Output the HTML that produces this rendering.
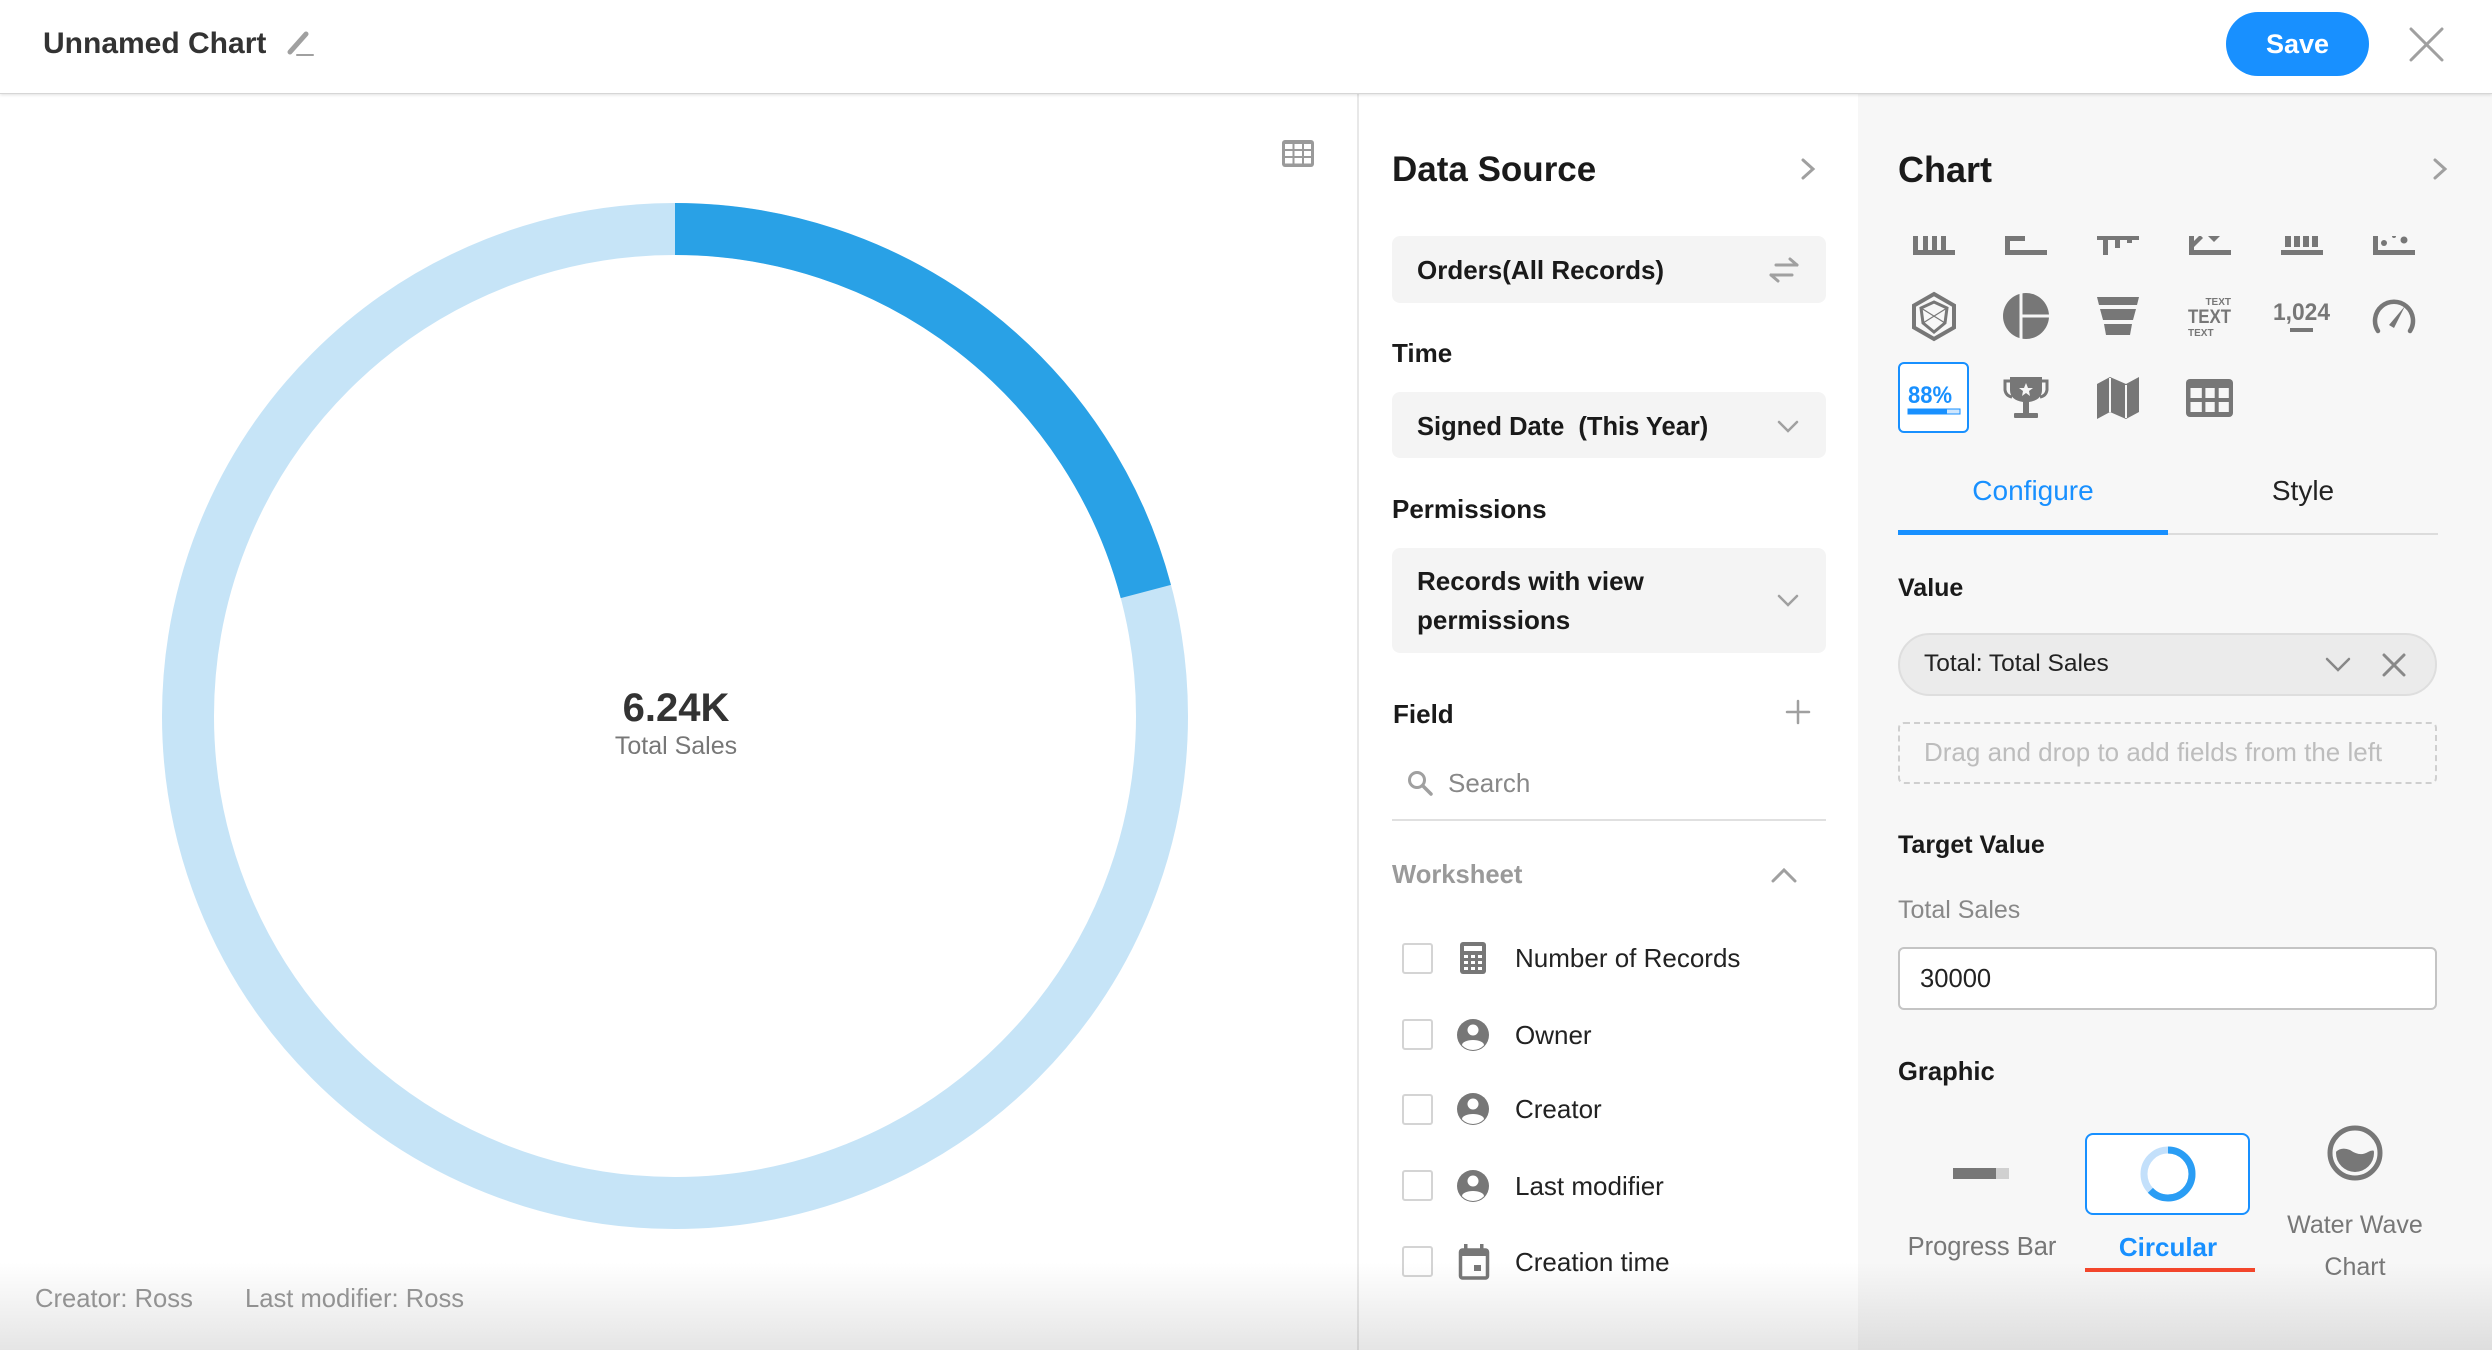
<!DOCTYPE html>
<html><head><meta charset="utf-8"><style>
*{margin:0;padding:0;box-sizing:border-box}
html,body{width:2492px;height:1350px;overflow:hidden;background:#fff;font-family:"Liberation Sans",Arial,sans-serif}
.a{position:absolute;white-space:nowrap}
.b{font-weight:bold}
</style></head><body>
<!-- panels -->
<div class="a" style="left:0;top:0;width:2492px;height:94px;background:#fff;border-bottom:1px solid #d6d6d6;box-shadow:0 1px 3px rgba(0,0,0,0.12);z-index:2"></div>
<div class="a" style="left:1357px;top:94px;width:2px;height:1256px;background:#e8e8e8"></div>
<div class="a" style="left:1858px;top:94px;width:634px;height:1256px;background:#f7f7f7"></div>

<!-- header -->
<div class="a b" style="left:43px;top:24px;font-size:30px;line-height:40px;color:#333;z-index:3">Unnamed Chart</div>
<div class="a" style="left:2226px;top:12px;width:143px;height:64px;border-radius:32px;background:#1890ff;z-index:3"></div>
<div class="a b" style="left:2226px;top:24px;width:143px;text-align:center;font-size:27px;line-height:40px;color:#fff;z-index:4">Save</div>

<!-- data source panel boxes -->
<div class="a" style="left:1392px;top:236px;width:434px;height:67px;background:#f4f4f4;border-radius:8px"></div>
<div class="a" style="left:1392px;top:392px;width:434px;height:66px;background:#f4f4f4;border-radius:8px"></div>
<div class="a" style="left:1392px;top:548px;width:434px;height:105px;background:#f4f4f4;border-radius:8px"></div>
<div class="a" style="left:1392px;top:819px;width:434px;height:2px;background:#e0e0e0"></div>

<div class="a b" style="left:1392px;top:150px;font-size:35px;line-height:40px;color:#1a1a1a">Data Source</div>
<div class="a b" style="left:1417px;top:255px;font-size:26px;line-height:30px;color:#1a1a1a">Orders(All Records)</div>
<div class="a b" style="left:1392px;top:338px;font-size:26px;line-height:30px;color:#1a1a1a">Time</div>
<div class="a b" style="left:1417px;top:412px;font-size:25.5px;line-height:30px;color:#1a1a1a">Signed Date<span style="margin-left:14px">(This Year)</span></div>
<div class="a b" style="left:1392px;top:494px;font-size:26px;line-height:30px;color:#1a1a1a">Permissions</div>
<div class="a b" style="left:1417px;top:562px;font-size:26px;line-height:39px;color:#1a1a1a;white-space:normal;width:300px">Records with view<br>permissions</div>
<div class="a b" style="left:1393px;top:699px;font-size:26px;line-height:30px;color:#1a1a1a">Field</div>
<div class="a" style="left:1448px;top:768px;font-size:26px;line-height:30px;color:#888">Search</div>
<div class="a b" style="left:1392px;top:860px;font-size:25.6px;line-height:30px;color:#9a9a9a">Worksheet</div>

<!-- checkboxes -->
<div class="a" style="left:1402px;top:943px;width:31px;height:31px;border:2px solid #d4d4d4;border-radius:3px;background:#fff"></div>
<div class="a" style="left:1402px;top:1019px;width:31px;height:31px;border:2px solid #d4d4d4;border-radius:3px;background:#fff"></div>
<div class="a" style="left:1402px;top:1094px;width:31px;height:31px;border:2px solid #d4d4d4;border-radius:3px;background:#fff"></div>
<div class="a" style="left:1402px;top:1170px;width:31px;height:31px;border:2px solid #d4d4d4;border-radius:3px;background:#fff"></div>
<div class="a" style="left:1402px;top:1246px;width:31px;height:31px;border:2px solid #d4d4d4;border-radius:3px;background:#fff"></div>

<div class="a" style="left:1515px;top:943px;font-size:26px;line-height:30px;color:#222">Number of Records</div>
<div class="a" style="left:1515px;top:1020px;font-size:26px;line-height:30px;color:#222">Owner</div>
<div class="a" style="left:1515px;top:1094px;font-size:26px;line-height:30px;color:#222">Creator</div>
<div class="a" style="left:1515px;top:1171px;font-size:26px;line-height:30px;color:#222">Last modifier</div>
<div class="a" style="left:1515px;top:1247px;font-size:26px;line-height:30px;color:#222">Creation time</div>

<!-- chart panel -->
<div class="a b" style="left:1898px;top:150px;font-size:36px;line-height:40px;color:#1a1a1a">Chart</div>
<div class="a" style="left:1898px;top:362px;width:71px;height:71px;background:#fff;border:2px solid #1890ff;border-radius:6px"></div>
<div class="a" style="left:1898px;top:474px;width:270px;text-align:center;font-size:28px;line-height:34px;color:#1890ff">Configure</div>
<div class="a" style="left:2168px;top:474px;width:270px;text-align:center;font-size:28px;line-height:34px;color:#222">Style</div>
<div class="a" style="left:1898px;top:533px;width:540px;height:2px;background:#dcdcdc"></div>
<div class="a" style="left:1898px;top:530px;width:270px;height:5px;background:#1890ff"></div>

<div class="a b" style="left:1898px;top:573px;font-size:25px;line-height:30px;color:#1a1a1a">Value</div>
<div class="a" style="left:1898px;top:633px;width:539px;height:63px;border-radius:32px;background:#ebebeb;border:2px solid #dedede"></div>
<div class="a" style="left:1924px;top:649px;font-size:24.5px;line-height:30px;color:#222">Total: Total Sales</div>
<div class="a" style="left:1898px;top:722px;width:539px;height:62px;border-radius:6px;border:2px dashed #cfcfcf"></div>
<div class="a" style="left:1924px;top:737px;font-size:26px;line-height:30px;color:#bdbdbd">Drag and drop to add fields from the left</div>
<div class="a b" style="left:1898px;top:830px;font-size:25px;line-height:30px;color:#1a1a1a">Target Value</div>
<div class="a" style="left:1898px;top:895px;font-size:25px;line-height:30px;color:#888">Total Sales</div>
<div class="a" style="left:1898px;top:947px;width:539px;height:63px;border-radius:6px;background:#fff;border:2px solid #c4c4c4"></div>
<div class="a" style="left:1920px;top:964px;font-size:25.6px;line-height:30px;color:#222">30000</div>
<div class="a b" style="left:1898px;top:1057px;font-size:25.6px;line-height:30px;color:#1a1a1a">Graphic</div>
<div class="a" style="left:2085px;top:1133px;width:165px;height:82px;background:#fff;border:2px solid #1890ff;border-radius:8px"></div>
<div class="a" style="left:1882px;top:1232px;width:200px;text-align:center;font-size:25.5px;line-height:30px;color:#777">Progress Bar</div>
<div class="a b" style="left:2068px;top:1232px;width:200px;text-align:center;font-size:26px;line-height:30px;color:#1890ff">Circular</div>
<div class="a" style="left:2085px;top:1268px;width:170px;height:4px;background:#f5462b"></div>
<div class="a" style="left:2255px;top:1210px;width:200px;text-align:center;font-size:25px;line-height:30px;color:#777">Water Wave</div>
<div class="a" style="left:2255px;top:1252px;width:200px;text-align:center;font-size:25px;line-height:30px;color:#777">Chart</div>

<!-- left chart text -->
<div class="a b" style="left:476px;top:688px;width:400px;text-align:center;font-size:40px;line-height:40px;color:#333">6.24K</div>
<div class="a" style="left:476px;top:731px;width:400px;text-align:center;font-size:25px;line-height:30px;color:#777">Total Sales</div>
<div class="a" style="left:35px;top:1284px;font-size:25.6px;line-height:30px;color:#999">Creator: Ross</div>
<div class="a" style="left:245px;top:1284px;font-size:25.6px;line-height:30px;color:#999">Last modifier: Ross</div>

<svg class="a" style="left:0;top:0;z-index:5" width="2492" height="1350" viewBox="0 0 2492 1350" xmlns="http://www.w3.org/2000/svg">
<defs>
<clipPath id="r1"><rect x="1880" y="236" width="580" height="30"/></clipPath>
<clipPath id="ww"><circle cx="2355" cy="1153" r="19"/></clipPath>
<clipPath id="pc"><circle cx="1473" cy="0" r="15"/></clipPath>
</defs>
<!-- donut -->
<circle cx="675" cy="716" r="487" fill="none" stroke="#c6e4f7" stroke-width="52"/>
<circle cx="675" cy="716" r="487" fill="none" stroke="#29a1e6" stroke-width="52" stroke-dasharray="639 3100" transform="rotate(-90 675 716)"/>
<!-- table icon top -->
<rect x="1282" y="140" width="32" height="27" rx="3" fill="#9a9a9a"/>
<g fill="#fff">
<rect x="1285" y="144" width="7.5" height="5"/><rect x="1294.5" y="144" width="7.5" height="5"/><rect x="1304" y="144" width="7" height="5"/>
<rect x="1285" y="151" width="7.5" height="5"/><rect x="1294.5" y="151" width="7.5" height="5"/><rect x="1304" y="151" width="7" height="5"/>
<rect x="1285" y="158" width="7.5" height="5.5"/><rect x="1294.5" y="158" width="7.5" height="5.5"/><rect x="1304" y="158" width="7" height="5.5"/>
</g>
<!-- header icons -->
<g stroke="#a0a0a0" fill="none" stroke-linecap="round">
<line x1="290" y1="52" x2="306" y2="34" stroke-width="5"/>
<line x1="297" y1="55" x2="313" y2="55" stroke-width="2"/>
<line x1="2411" y1="29" x2="2442" y2="60" stroke-width="3"/>
<line x1="2442" y1="29" x2="2411" y2="60" stroke-width="3"/>
<polyline points="1803,160 1813,169 1803,178" stroke-width="3"/>
<polyline points="2435,160 2445,169 2435,178" stroke-width="3"/>
<!-- swap -->
<line x1="1776" y1="265" x2="1797" y2="265" stroke-width="3"/>
<line x1="1797" y1="265" x2="1790" y2="259" stroke-width="3"/>
<line x1="1771" y1="275" x2="1792" y2="275" stroke-width="3"/>
<line x1="1771" y1="275" x2="1778" y2="281" stroke-width="3"/>
<!-- chevrons -->
<polyline points="1779,422 1788,431 1797,422" stroke-width="2.5"/>
<polyline points="1779,596 1788,605 1797,596" stroke-width="2.5"/>
<polyline points="1773,881 1784,870 1795,881" stroke-width="3"/>
<line x1="1798" y1="701" x2="1798" y2="723" stroke-width="2.5"/>
<line x1="1787" y1="712" x2="1809" y2="712" stroke-width="2.5"/>
<circle cx="1417" cy="780" r="7.5" stroke-width="3"/>
<line x1="1423" y1="786" x2="1431" y2="794" stroke-width="3.5"/>
<polyline points="2327,659 2338,670 2349,659" stroke="#888" stroke-width="2.5"/>
<line x1="2384" y1="655" x2="2404" y2="675" stroke="#888" stroke-width="3"/>
<line x1="2404" y1="655" x2="2384" y2="675" stroke="#888" stroke-width="3"/>
</g>
<!-- worksheet icons -->
<g fill="#777">
<rect x="1460" y="942" width="26" height="32" rx="3"/>
<rect x="1464" y="946" width="18" height="5" fill="#fff"/>
<g fill="#fff">
<rect x="1464" y="955" width="4" height="3"/><rect x="1471" y="955" width="4" height="3"/><rect x="1478" y="955" width="4" height="3"/>
<rect x="1464" y="961" width="4" height="3"/><rect x="1471" y="961" width="4" height="3"/><rect x="1478" y="961" width="4" height="3"/>
<rect x="1464" y="967" width="4" height="3"/><rect x="1471" y="967" width="4" height="3"/><rect x="1478" y="967" width="4" height="3"/>
</g>
<g transform="translate(0,1035)"><circle cx="1473" cy="0" r="16"/><circle cx="1473" cy="-5" r="5.5" fill="#fff"/><ellipse cx="1473" cy="10" rx="11" ry="5" fill="#fff" clip-path="url(#pc)"/></g>
<g transform="translate(0,1109)"><circle cx="1473" cy="0" r="16"/><circle cx="1473" cy="-5" r="5.5" fill="#fff"/><ellipse cx="1473" cy="10" rx="11" ry="5" fill="#fff" clip-path="url(#pc)"/></g>
<g transform="translate(0,1186)"><circle cx="1473" cy="0" r="16"/><circle cx="1473" cy="-5" r="5.5" fill="#fff"/><ellipse cx="1473" cy="10" rx="11" ry="5" fill="#fff" clip-path="url(#pc)"/></g>
<rect x="1460.5" y="1250" width="27" height="28" rx="2" fill="none" stroke="#777" stroke-width="3.5"/>
<rect x="1460" y="1249" width="28" height="7"/>
<rect x="1464" y="1244" width="3.5" height="7"/><rect x="1480" y="1244" width="3.5" height="7"/>
<rect x="1474" y="1265" width="7" height="6"/>
</g>
<!-- chart type row 1 (clipped) -->
<g fill="#777" clip-path="url(#r1)">
<rect x="1913" y="225" width="5" height="30" rx="2"/><rect x="1913" y="250" width="42" height="5"/>
<rect x="1923" y="230" width="5" height="22"/><rect x="1932" y="232" width="5" height="20"/><rect x="1941" y="230" width="5" height="22"/>
<rect x="2005" y="225" width="5" height="30" rx="2"/><rect x="2005" y="250" width="42" height="5"/><rect x="2005" y="231" width="20" height="10"/>
<rect x="2097" y="230" width="42" height="10"/><rect x="2103" y="230" width="5" height="25"/><rect x="2115" y="230" width="5" height="18"/><rect x="2127" y="230" width="5" height="13"/>
<rect x="2189" y="225" width="5" height="30" rx="2"/><rect x="2189" y="250" width="42" height="5"/>
<polygon points="2194,247 2194,241 2200,235 2203,238"/><polygon points="2208,236 2220,236 2214,242"/>
<rect x="2285" y="230" width="6" height="17"/><rect x="2294" y="230" width="6" height="17"/><rect x="2303" y="230" width="6" height="17"/><rect x="2312" y="230" width="6" height="17"/><rect x="2281" y="250" width="42" height="5"/>
<rect x="2373" y="225" width="5" height="30" rx="2"/><rect x="2373" y="250" width="42" height="5"/>
<circle cx="2384" cy="243" r="3"/><circle cx="2404" cy="240" r="3.5"/><circle cx="2394" cy="236" r="2"/>
</g>
<!-- row 2 -->
<g fill="none" stroke="#777">
<polygon points="1934,294 1954,305.5 1954,327.5 1934,339 1914,327.5 1914,305.5" stroke-width="4"/>
<polygon points="1934,302 1947,308 1945,323 1934,332 1923,323 1921,308" stroke-width="3"/>
<line x1="1921" y1="308" x2="1945" y2="323" stroke-width="1.2"/><line x1="1947" y1="308" x2="1923" y2="323" stroke-width="1.2"/>
</g>
<circle cx="2026" cy="316" r="23" fill="#777"/>
<line x1="2021" y1="292" x2="2021" y2="340" stroke="#f7f7f7" stroke-width="3"/>
<line x1="2021" y1="316" x2="2050" y2="316" stroke="#f7f7f7" stroke-width="3"/>
<g fill="#777">
<polygon points="2097,297 2139,297 2137,305 2099,305"/>
<polygon points="2100,309 2136,309 2133,320 2103,320"/>
<polygon points="2104,324 2132,324 2130,335 2106,335"/>
</g>
<g fill="#777" font-family="Liberation Sans, Arial, sans-serif" font-weight="bold">
<text x="2231" y="305" font-size="10" text-anchor="end">TEXT</text>
<text x="2188" y="323" font-size="19" textLength="43" lengthAdjust="spacingAndGlyphs">TEXT</text>
<text x="2188" y="336" font-size="10">TEXT</text>
</g>
<text x="2273" y="320" font-size="24" font-weight="bold" fill="#777" font-family="Liberation Sans, Arial, sans-serif" textLength="57" lengthAdjust="spacingAndGlyphs">1,024</text>
<rect x="2290" y="328" width="23" height="4" fill="#777"/>
<path d="M2378 331 A19 19 0 1 1 2410 331" fill="none" stroke="#777" stroke-width="4.5" stroke-linecap="round"/>
<polygon points="2389,325 2394,328 2405,306" fill="#777"/>
<!-- row 3 -->
<text x="1908" y="403" font-size="24" font-weight="bold" fill="#1890ff" font-family="Liberation Sans, Arial, sans-serif" textLength="44" lengthAdjust="spacingAndGlyphs">88%</text>
<rect x="1908" y="409" width="52" height="5" fill="#cfe6fd" stroke="#1890ff" stroke-width="1"/>
<rect x="1908" y="409" width="39" height="5" fill="#1890ff"/>
<g fill="#777">
<path d="M2010 377 H2042 V390 Q2042 400 2029 402 V413 H2023 V402 Q2010 400 2010 390 Z"/>
<path d="M2010 381 H2005 V390 Q2006 396 2012 397" fill="none" stroke="#777" stroke-width="3"/>
<path d="M2042 381 H2047 V390 Q2046 396 2040 397" fill="none" stroke="#777" stroke-width="3"/>
<rect x="2014" y="413" width="24" height="5" rx="1"/>
<polygon points="2026,383 2028,388 2033,388 2029,391 2030,396 2026,393 2022,396 2023,391 2019,388 2024,388" fill="#f7f7f7"/>
<polygon points="2097,384 2110,377 2126,384 2139,377 2139,412 2126,419 2110,412 2097,419"/>
<line x1="2110" y1="378" x2="2110" y2="412" stroke="#f7f7f7" stroke-width="2"/>
<line x1="2126" y1="385" x2="2126" y2="418" stroke="#f7f7f7" stroke-width="2"/>
<rect x="2186" y="379" width="47" height="38" rx="4"/>
</g>
<g fill="#f7f7f7">
<rect x="2190.5" y="388" width="11.3" height="10"/><rect x="2205.4" y="388" width="9.3" height="10"/><rect x="2218.7" y="388" width="10.1" height="10"/>
<rect x="2190.5" y="402" width="11.3" height="10"/><rect x="2205.4" y="402" width="9.3" height="10"/><rect x="2218.7" y="402" width="10.1" height="10"/>
</g>
<!-- graphic icons -->
<rect x="1953" y="1168" width="43" height="11" fill="#777"/>
<rect x="1996" y="1168" width="13" height="11" fill="#d0d0d0"/>
<circle cx="2168" cy="1174" r="24" fill="none" stroke="#c3e0fb" stroke-width="7"/>
<circle cx="2168" cy="1174" r="24" fill="none" stroke="#2a9df4" stroke-width="7" stroke-dasharray="95 200" transform="rotate(-90 2168 1174)"/>
<circle cx="2355" cy="1153" r="25" fill="none" stroke="#777" stroke-width="5"/>
<path d="M2334 1154 Q2340 1146 2350 1150 Q2360 1157 2368 1152 Q2373 1149 2376 1152 L2376 1176 L2334 1176 Z" fill="#777" clip-path="url(#ww)"/>
</svg>
<div class="a" style="left:0;top:1262px;width:2492px;height:88px;background:linear-gradient(to bottom,rgba(0,0,0,0),rgba(0,0,0,0.1));z-index:10"></div>
</body></html>
